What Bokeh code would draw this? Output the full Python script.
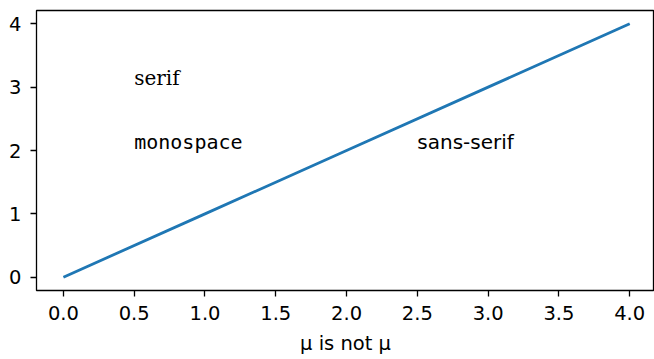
from bokeh.plotting import figure
from bokeh.models import Range1d, FixedTicker, Label
from bokeh.embed import file_html
from bokeh.resources import INLINE

# Data for the straight line
xs = [0, 1, 2, 3, 4]
ys = [0, 1, 2, 3, 4]

# Tick positions and labels
x_ticks = [0.0, 0.5, 1.0, 1.5, 2.0, 2.5, 3.0, 3.5, 4.0]
x_tick_labels = ["0.0", "0.5", "1.0", "1.5", "2.0", "2.5", "3.0", "3.5", "4.0"]
y_ticks = [0, 1, 2, 3, 4]
y_tick_labels = ["0", "1", "2", "3", "4"]

# Font-family demo labels
label_texts = ["serif", "monospace", "sans-serif"]
label_x = [0.5, 0.5, 2.5]
label_y = [3, 2, 2]
label_fonts = ["DejaVu Serif", "DejaVu Sans Mono", "DejaVu Sans"]

FS = "19.5px"

p = figure(width=654, height=359, output_backend="svg", toolbar_location=None,
           x_range=Range1d(-0.19, 4.175), y_range=Range1d(-0.21, 4.21),
           min_border_left=36, min_border_right=0, min_border_top=10,
           min_border_bottom=69)

p.background_fill_color = "white"
p.border_fill_color = "white"
p.outline_line_color = "black"
p.outline_line_width = 1.3
p.grid.visible = False

p.line(xs, ys, line_color="#1f77b4", line_width=2.8)

for t, xv, yv, f in zip(label_texts, label_x, label_y, label_fonts):
    p.add_layout(Label(x=xv, y=yv, text=t, text_font=f, text_font_size="20px",
                       text_color="black", text_baseline="bottom",
                       text_align="left", y_offset=-3))

for ax, ticks, labels in ((p.xaxis[0], x_ticks, x_tick_labels),
                          (p.yaxis[0], y_ticks, y_tick_labels)):
    ax.ticker = FixedTicker(ticks=ticks)
    ax.major_label_overrides = {t: l for t, l in zip(ticks, labels)}
    ax.axis_line_color = None
    ax.major_tick_in = 0
    ax.major_tick_out = 6
    ax.major_tick_line_color = "black"
    ax.major_tick_line_width = 1.3
    ax.minor_tick_line_color = None
    ax.major_label_text_font = "DejaVu Sans"
    ax.major_label_text_font_size = FS
    ax.major_label_text_color = "black"

p.xaxis[0].major_label_standoff = 9
p.yaxis[0].major_label_orientation = "horizontal"
p.yaxis[0].major_label_standoff = 9

p.xaxis[0].axis_label = "µ is not μ"
p.xaxis[0].axis_label_text_font = "DejaVu Sans"
p.xaxis[0].axis_label_text_font_size = FS
p.xaxis[0].axis_label_text_font_style = "normal"
p.xaxis[0].axis_label_text_color = "black"
p.xaxis[0].axis_label_standoff = 9

open("out.html", "w").write(file_html(p, INLINE))
